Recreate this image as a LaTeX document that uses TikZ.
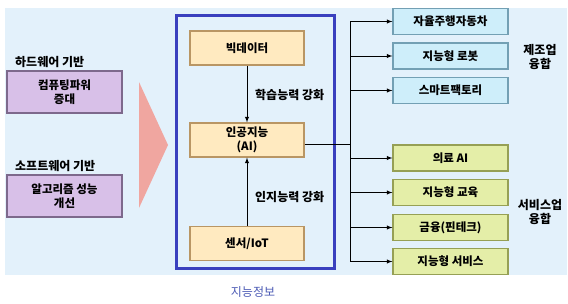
\documentclass[tikz,border=0pt]{standalone}
\usepackage{fontspec}
\setmainfont{Noto Sans CJK KR}
\usetikzlibrary{arrows,calc}
\definecolor{BackClr}{RGB}{227,241,251}
\definecolor{FrameClr}{RGB}{58,64,190}
\definecolor{ConeClr}{RGB}{240,166,160}
\definecolor{PurpleClr}{RGB}{216,192,232}
\definecolor{PurpleEdge}{RGB}{125,105,140}
\definecolor{OrangeClr}{RGB}{255,234,192}
\definecolor{OrangeEdge}{RGB}{185,150,100}
\definecolor{CyanClr}{RGB}{206,238,250}
\definecolor{CyanEdge}{RGB}{115,160,180}
\definecolor{GreenClr}{RGB}{228,238,168}
\definecolor{GreenEdge}{RGB}{150,160,85}
\definecolor{TitleClr}{RGB}{75,90,180}

\tikzset{
  box/.style={line width=1.2pt,align=center,inner sep=0pt,
    font=\fontsize{11.5}{13.5}\selectfont\bfseries},
  hwbox/.style={box,fill=PurpleClr,draw=PurpleEdge,minimum width=115pt,minimum height=42pt},
  aibox/.style={box,fill=OrangeClr,draw=OrangeEdge,minimum width=114pt,minimum height=34pt},
  mfbox/.style={box,fill=CyanClr,draw=CyanEdge,minimum width=115pt,minimum height=26pt},
  svbox/.style={box,fill=GreenClr,draw=GreenEdge,minimum width=115pt,minimum height=26pt},
  caption/.style={font=\fontsize{12}{14.5}\selectfont\bfseries,inner sep=0pt},
  link/.style={line width=0.9pt,-latex}
}

\begin{document}
\begin{tikzpicture}[x=1pt,y=-1pt]
\useasboundingbox (0,0) rectangle (568,303);
\fill[BackClr] (5,8) rectangle (567,275);

% left side
\node[caption,anchor=west] (hwtitle) at (15,62) {하드웨어 기반};
\node[hwbox] (hw) at (64.5,92) {컴퓨팅파워\\증대};
\node[caption,anchor=west] (swtitle) at (15,166) {소프트웨어 기반};
\node[hwbox] (sw) at (64.5,196) {알고리즘 성능\\개선};

\fill[ConeClr] (139,82) -- (168,145) -- (139,208) -- cycle;

% intelligence block
\draw[FrameClr,line width=3pt] (176,15) rectangle (334,268);
\node[aibox] (bigdata) at (247,48) {빅데이터};
\node[aibox] (ai) at (247,140) {인공지능\\(AI)};
\node[aibox] (sensor) at (247,243.5) {센서/IoT};
\draw[link] (bigdata) -- (ai);
\draw[link] (sensor) -- (ai);
\node[caption,anchor=west] (learn) at (255,95) {학습능력 강화};
\node[caption,anchor=west] (sense) at (255,197) {인지능력 강화};
\node[font=\fontsize{12}{14}\selectfont,text=TitleClr,inner sep=0pt] (title) at (253,292) {지능정보};

% applications
\node[mfbox] (car) at (450.5,21.5) {자율주행자동차};
\node[mfbox] (robot) at (450.5,56) {지능형 로봇};
\node[mfbox] (factory) at (450.5,90.5) {스마트팩토리};
\node[svbox] (med) at (450.5,158) {의료 AI};
\node[svbox] (edu) at (450.5,192.5) {지능형 교육};
\node[svbox] (fin) at (450.5,227.5) {금융(핀테크)};
\node[svbox] (svc) at (450.5,261.5) {지능형 서비스};

\node[caption,align=center] (mfg) at (540,57) {제조업\\융합};
\node[caption,align=center] (srv) at (540,212) {서비스업\\융합};

\coordinate (trunk) at (350,145);
\draw[line width=0.9pt] ([yshift=-4pt]ai.east) -- ([yshift=-4pt]ai.east -| trunk);
\draw[line width=0.9pt] (car.west -| trunk) -- (svc.west -| trunk);
\foreach \n in {car,robot,factory,med,edu,fin,svc}
  \draw[link] (\n.west -| trunk) -- (\n.west);

\end{tikzpicture}
\end{document}
